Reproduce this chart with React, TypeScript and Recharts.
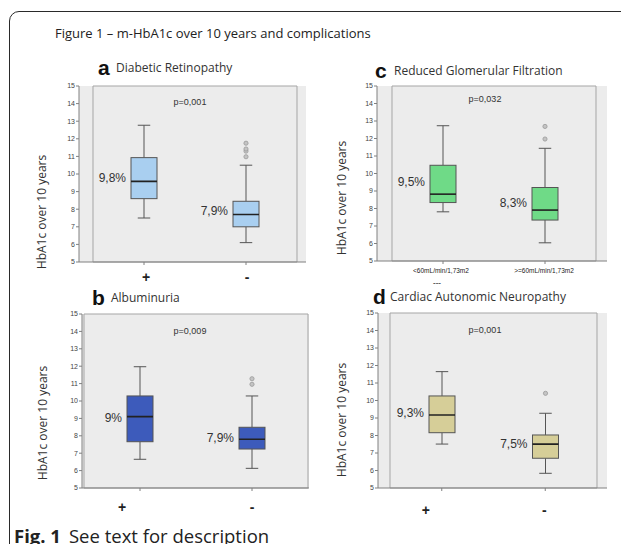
import { ComposedChart, Bar, XAxis, YAxis, CartesianGrid, ReferenceArea } from "recharts";

// five-number summaries per group: [min, q1, median, q3, max]
const retinopathyGroups = ["+", "-"];
const retinopathyBoxes = [
  [7.5, 8.6, 9.58, 10.93, 12.77],
  [6.1, 7.0, 7.7, 8.45, 10.5],
];
const retinopathyMeans = [9.8, 7.9];
const retinopathyOutliers = [[], [10.98, 11.3, 11.42, 11.75]];
const retinopathyP = "p=0,001";

const albuminuriaGroups = ["+", "-"];
const albuminuriaBoxes = [
  [6.65, 7.66, 9.1, 10.29, 11.97],
  [6.13, 7.24, 7.8, 8.49, 10.29],
];
const albuminuriaMeans = [9, 7.9];
const albuminuriaOutliers = [[], [10.96, 11.28]];
const albuminuriaP = "p=0,009";

const filtrationGroups = ["<60mL/min/1,73m2", ">=60mL/min/1,73m2"];
const filtrationBoxes = [
  [7.81, 8.34, 8.82, 10.47, 12.73],
  [6.04, 7.34, 7.91, 9.2, 11.44],
];
const filtrationMeans = [9.5, 8.3];
const filtrationOutliers = [[], [11.97, 12.69]];
const filtrationP = "p=0,032";

const neuropathyGroups = ["+", "-"];
const neuropathyBoxes = [
  [7.51, 8.16, 9.17, 10.26, 11.65],
  [5.84, 6.7, 7.51, 8.03, 9.27],
];
const neuropathyMeans = [9.3, 7.5];
const neuropathyOutliers = [[], [10.41]];
const neuropathyP = "p=0,001";

const hba1cTicks = [5, 6, 7, 8, 9, 10, 11, 12, 13, 14, 15];

type Row = {
  group: string;
  min: number;
  q1: number;
  median: number;
  q3: number;
  max: number;
  mean: number;
  outliers: number[];
};

function buildRows(groups: string[], boxes: number[][], means: number[], outliers: number[][]): Row[] {
  return groups.map((group, i) => {
    const [min, q1, median, q3, max] = boxes[i];
    return { group, min, q1, median, q3, max, mean: means[i], outliers: outliers[i] };
  });
}

const SANS = "'Open Sans', 'Noto Sans', sans-serif";
const ARIAL = "'Liberation Sans', Arial, sans-serif";

const formatPct = (v: number) => String(v).replace(".", ",") + "%";

// whisker box drawn over the [min, max] range bar
function BoxShape(props: any) {
  const { x, y, width, height, payload, color } = props;
  if (!payload || !Number.isFinite(y) || !Number.isFinite(height)) return null;
  const top = Math.min(y, y + height);
  const span = Math.abs(height);
  const perUnit = span / (payload.max - payload.min);
  const yOf = (v: number) => top + (payload.max - v) * perUnit;
  const cx = x + width / 2;
  const cap = width * 0.24;
  const q3y = yOf(payload.q3);
  const q1y = yOf(payload.q1);
  const my = yOf(payload.median);
  return (
    <g>
      <line x1={cx} x2={cx} y1={top} y2={q3y} stroke="#555" />
      <line x1={cx} x2={cx} y1={q1y} y2={top + span} stroke="#555" />
      <line x1={cx - cap} x2={cx + cap} y1={top} y2={top} stroke="#555" />
      <line x1={cx - cap} x2={cx + cap} y1={top + span} y2={top + span} stroke="#555" />
      <rect x={x} y={q3y} width={width} height={q1y - q3y} fill={color} stroke="#555" />
      <line x1={x} x2={x + width} y1={my} y2={my} stroke="#222" strokeWidth={1.6} />
      {payload.outliers.map((o: number, i: number) => (
        <circle key={i} cx={cx} cy={yOf(o)} r={2.1} fill="#c4c4c4" stroke="#999" strokeWidth={0.8} />
      ))}
      <text
        x={x - 5}
        y={yOf(payload.mean)}
        textAnchor="end"
        dominantBaseline="central"
        fontSize={12}
        fontFamily={ARIAL}
        fill="#333"
      >
        {formatPct(payload.mean)}
      </text>
    </g>
  );
}

function GroupTick(props: any) {
  const { x, y, payload, index, shifts, offset, size, weight } = props;
  const axisY = y - 5;
  return (
    <text
      x={x + shifts[index]}
      y={axisY + offset}
      textAnchor="middle"
      dominantBaseline="central"
      fontSize={size}
      fontWeight={weight}
      fontFamily={ARIAL}
      fill="#222"
    >
      {payload.value}
    </text>
  );
}

type Panel = {
  letter: string;
  title: string;
  rows: Row[];
  pValue: string;
  color: string;
  left: number;
  top: number;
  width: number;
  height: number;
  axisH: number;
  pad: { left: number; right: number };
  tick: { shifts: number[]; offset: number; size: number; weight: number };
  letterPos: [number, number];
  titlePos: [number, number];
  yLabelPos: [number, number];
  pPos: [number, number];
};

const panels: Panel[] = [
  {
    letter: "a",
    title: "Diabetic Retinopathy",
    rows: buildRows(retinopathyGroups, retinopathyBoxes, retinopathyMeans, retinopathyOutliers),
    pValue: retinopathyP,
    color: "#a9cff0",
    left: 45,
    top: 78,
    width: 267,
    height: 208,
    axisH: 24,
    pad: { left: 14, right: 9 },
    tick: { shifts: [2, 1], offset: 15, size: 14, weight: 700 },
    letterPos: [98, 67],
    titlePos: [116, 68],
    yLabelPos: [42, 212],
    pPos: [190, 102],
  },
  {
    letter: "b",
    title: "Albuminuria",
    rows: buildRows(albuminuriaGroups, albuminuriaBoxes, albuminuriaMeans, albuminuriaOutliers),
    pValue: albuminuriaP,
    color: "#3d5bbb",
    left: 48,
    top: 306,
    width: 267,
    height: 210,
    axisH: 28,
    pad: { left: 2, right: 1 },
    tick: { shifts: [-18, 0], offset: 19, size: 14, weight: 700 },
    letterPos: [92, 297],
    titlePos: [111, 298],
    yLabelPos: [43, 423],
    pPos: [190, 331],
  },
  {
    letter: "c",
    title: "Reduced Glomerular Filtration",
    rows: buildRows(filtrationGroups, filtrationBoxes, filtrationMeans, filtrationOutliers),
    pValue: filtrationP,
    color: "#6fda87",
    left: 343,
    top: 78,
    width: 270,
    height: 213,
    axisH: 30,
    pad: { left: 15, right: 11 },
    tick: { shifts: [-2, -1], offset: 9, size: 6.5, weight: 400 },
    letterPos: [375, 70],
    titlePos: [394, 71],
    yLabelPos: [342, 198],
    pPos: [485, 99],
  },
  {
    letter: "d",
    title: "Cardiac Autonomic Neuropathy",
    rows: buildRows(neuropathyGroups, neuropathyBoxes, neuropathyMeans, neuropathyOutliers),
    pValue: neuropathyP,
    color: "#d6ce98",
    left: 344,
    top: 305,
    width: 269,
    height: 213,
    axisH: 30,
    pad: { left: 12, right: 10 },
    tick: { shifts: [-16, -1], offset: 22, size: 14, weight: 700 },
    letterPos: [373, 296],
    titlePos: [390, 297],
    yLabelPos: [342, 420],
    pPos: [485, 330],
  },
];

function Text({ x, y, size, weight = 400, family = SANS, color = "#222", anchor = "start", children }: any) {
  const shift = anchor === "middle" ? "-50%" : anchor === "end" ? "-100%" : "0";
  return (
    <div
      style={{
        position: "absolute",
        left: x,
        top: y,
        transform: `translate(${shift}, -50%)`,
        fontSize: size,
        fontWeight: weight,
        fontFamily: family,
        color,
        lineHeight: 1,
        whiteSpace: "nowrap",
      }}
    >
      {children}
    </div>
  );
}

function BoxPanel({ p }: { p: Panel }) {
  return (
    <>
      <Text x={p.letterPos[0]} y={p.letterPos[1]} size={21} weight={700} family={ARIAL} color="#111">
        {p.letter}
      </Text>
      <Text x={p.titlePos[0]} y={p.titlePos[1]} size={12} color="#333">
        {p.title}
      </Text>
      <div
        style={{
          position: "absolute",
          left: p.yLabelPos[0],
          top: p.yLabelPos[1],
          transform: "translate(-50%, -50%) rotate(-90deg)",
          fontSize: 12,
          fontFamily: SANS,
          color: "#333",
          whiteSpace: "nowrap",
          lineHeight: 1,
        }}
      >
        HbA1c over 10 years
      </div>
      <div style={{ position: "absolute", left: p.left, top: p.top }}>
        <ComposedChart
          width={p.width}
          height={p.height}
          data={p.rows}
          margin={{ top: 8, right: 6, bottom: 0, left: 0 }}
        >
          <CartesianGrid fill="#ececec" stroke="none" horizontal={false} vertical={false} />
          <ReferenceArea y1={5} y2={15} fill="none" stroke="#a5a5a5" strokeWidth={1} ifOverflow="visible" />
          <XAxis
            dataKey="group"
            type="category"
            height={p.axisH}
            padding={p.pad}
            tickSize={3}
            tickMargin={2}
            interval={0}
            stroke="#808080"
            tick={(t: any) => <GroupTick {...t} {...p.tick} />}
          />
          <YAxis
            type="number"
            domain={[5, 15]}
            ticks={hba1cTicks}
            interval={0}
            allowDataOverflow
            width={34}
            tickSize={3}
            tickMargin={1}
            stroke="#808080"
            tick={{ fontSize: 7, fill: "#444", fontFamily: ARIAL }}
          />
          <Bar
            dataKey={(d: Row) => [d.min, d.max]}
            barSize={26}
            isAnimationActive={false}
            shape={(s: any) => <BoxShape {...s} color={p.color} />}
          />
        </ComposedChart>
      </div>
      <Text x={p.pPos[0]} y={p.pPos[1]} size={9} family={ARIAL} color="#333" anchor="middle">
        {p.pValue}
      </Text>
    </>
  );
}

export default function App() {
  return (
    <div
      style={{
        position: "relative",
        width: 629,
        height: 552,
        margin: -8,
        overflow: "hidden",
        background: "#fff",
      }}
    >
      <div
        style={{
          position: "absolute",
          left: 9,
          top: 11,
          width: 640,
          height: 620,
          border: "1.5px solid #2a2a2a",
          borderRadius: 10,
          boxSizing: "border-box",
        }}
      />
      <Text x={55} y={33} size={13} color="#222">
        Figure 1 – m-HbA1c over 10 years and complications
      </Text>
      {panels.map((p) => (
        <BoxPanel key={p.letter} p={p} />
      ))}
      <Text x={437} y={283} size={8} weight={700} family={ARIAL} color="#555" anchor="middle">
        ---
      </Text>
      <div
        style={{
          position: "absolute",
          left: 14,
          top: 536,
          transform: "translateY(-50%)",
          fontFamily: SANS,
          fontSize: 18.5,
          color: "#222",
          lineHeight: 1,
          whiteSpace: "nowrap",
        }}
      >
        <span style={{ fontWeight: 700 }}>Fig. 1</span>
        <span style={{ marginLeft: 8 }}>See text for description</span>
      </div>
    </div>
  );
}
